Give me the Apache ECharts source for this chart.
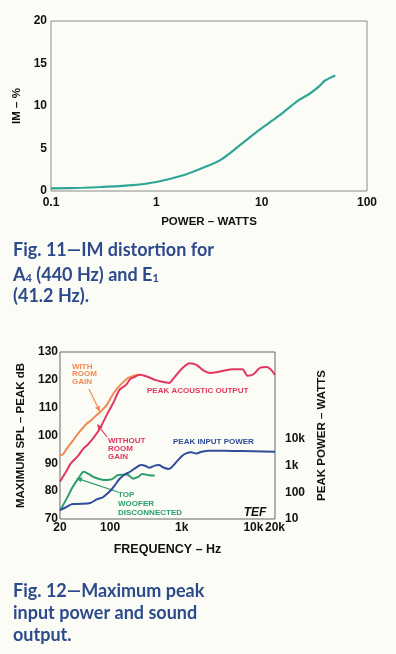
<!DOCTYPE html>
<html>
<head>
<meta charset="utf-8">
<script src="https://cdn.jsdelivr.net/npm/echarts@6/dist/echarts.min.js"></script>
<style>
  html, body { margin: 0; padding: 0; background: #fcfcf6; }
  #chart { width: 396px; height: 654px; }
</style>
</head>
<body>
<div id="chart"></div>
<script>
// Fig. 11 - IM distortion vs power
const powerW = [0.1, 0.2, 0.3, 0.6, 1, 1.7, 2.6, 4, 6.1, 9.3, 14.4, 22, 29, 35, 40, 50];
const imPct = [0.3, 0.38, 0.47, 0.7, 1.06, 1.76, 2.6, 3.6, 5.3, 7.1, 8.8, 10.6, 11.5, 12.3, 13.0, 13.6];
const powerTicks = [0.1, 1, 10, 100];
const powerTickLabels = ['0.1', '1', '10', '100'];

// Fig. 12 - max SPL (left, dB) and peak input power (right, watts) vs frequency
const freqNoGain = [20, 25, 28, 36, 42, 50, 70, 94, 112, 136, 167, 190, 227, 260, 340, 420, 513, 664, 774, 1000, 1300, 1620, 2000, 2480, 3430, 5260, 7000, 8300, 10000, 12500, 15300, 20000];
const splNoGain = [83.5, 87.5, 89.8, 92.8, 95.2, 97, 102, 108.4, 112, 116.5, 118.2, 120.2, 121.2, 121.8, 121, 120, 119.4, 118.9, 120.6, 124, 126, 125.3, 123.4, 122.5, 123, 123.8, 123.8, 121.5, 122, 124.4, 124.6, 121.8];

const freqGain = [20, 22, 25, 30, 34, 40, 47, 55, 65, 75, 89, 106, 125, 150, 177, 210, 250];
const splGain = [92.8, 93.2, 95.4, 98, 100, 102.2, 104.2, 105.6, 107.4, 108.8, 110.8, 114.2, 116.8, 119, 120.6, 121.4, 121.8];

const freqTopOff = [20, 25, 30, 36, 43, 50, 60, 75, 90, 106, 130, 172, 210, 250, 280, 350, 420];
const splTopOff = [73, 77.5, 81.5, 84.5, 87, 86.2, 85, 84.2, 84, 84.3, 85.8, 86, 84.5, 85.2, 86.2, 85.7, 85.6];

const freqInput = [20, 24, 30, 40, 53, 65, 79, 92, 106, 120, 135, 160, 190, 227, 270, 320, 350, 420, 480, 550, 660, 760, 860, 1000, 1150, 1350, 1600, 1900, 2400, 3000, 5000, 10000, 20000];
const wattsInput = [21.5, 27, 36.5, 37, 40, 54, 65, 91, 133, 205, 316, 464, 590, 826, 1050, 953, 826, 1000, 1050, 866, 750, 1000, 1470, 2260, 2870, 3160, 2870, 3320, 3650, 3650, 3560, 3480, 3320];

const freqTicks = [20, 100, 1000, 10000, 20000];
const freqTickLabels = ['20', '100', '1k', '10k', '20k'];
const wattTicks = [10, 100, 1000, 10000];
const wattTickLabels = ['10', '100', '1k', '10k'];

const labelFont = 'Liberation Sans';
const captionFont = 'Lato';
const captionColor = '#2d4a8c';
const red = '#e2365e';
const orange = '#f08a52';
const green = '#2b9d6e';
const blue = '#2f4d9c';

function tickLabel(ticks, labels) {
  return function (v) {
    for (let i = 0; i < ticks.length; i++) {
      if (Math.abs(v / ticks[i] - 1) < 1e-6) return labels[i];
    }
    return '';
  };
}

function pairs(xs, ys) {
  return xs.map((x, i) => [x, ys[i]]);
}

// small arrow for the hand-drawn style annotations
function arrow(x1, y1, x2, y2, color) {
  const a = Math.atan2(y2 - y1, x2 - x1);
  const len = 6, w = 2.6;
  const bx = x2 - len * Math.cos(a), by = y2 - len * Math.sin(a);
  return [
    { type: 'line', shape: { x1: x1, y1: y1, x2: bx, y2: by }, style: { stroke: color, lineWidth: 1.2 } },
    { type: 'polygon', shape: { points: [[x2, y2], [bx + w * Math.sin(a), by - w * Math.cos(a)], [bx - w * Math.sin(a), by + w * Math.cos(a)]] }, style: { fill: color } }
  ];
}

function note(text, x, y, color, lineHeight) {
  return {
    type: 'text',
    style: { text: text, x: x, y: y, fill: color, font: 'bold 8px ' + labelFont, lineHeight: lineHeight || 8, verticalAlign: 'top', align: 'left' }
  };
}

function caption(text, x, y) {
  return {
    type: 'text',
    style: { text: text, x: x, y: y, fill: captionColor, font: 'bold 18px ' + captionFont, verticalAlign: 'middle', align: 'left' }
  };
}

const axisText = { color: '#111', fontFamily: labelFont, fontWeight: 'bold', fontSize: 12 };
const nameText = { color: '#111', fontFamily: labelFont, fontWeight: 'bold', fontSize: 11.5 };

const chart = echarts.init(document.getElementById('chart'));

chart.setOption({
  backgroundColor: '#fcfcf6',
  animation: false,
  grid: [
    { left: 51, top: 21, width: 316, height: 170, show: true, borderColor: '#8a8a8a', borderWidth: 1, backgroundColor: 'transparent' },
    { left: 60, top: 352, width: 215, height: 167, show: true, borderColor: '#666', borderWidth: 1, backgroundColor: 'transparent' }
  ],
  xAxis: [
    {
      gridIndex: 0, type: 'log', logBase: 10, min: 0.1, max: 100,
      name: 'POWER \u2013 WATTS', nameLocation: 'middle', nameGap: 25, nameTextStyle: nameText,
      axisLine: { show: false }, axisTick: { show: false }, splitLine: { show: false },
      axisLabel: Object.assign({ margin: 6, showMinLabel: true, showMaxLabel: true, formatter: tickLabel(powerTicks, powerTickLabels) }, axisText)
    },
    {
      gridIndex: 1, type: 'log', logBase: 10, min: 20, max: 20000,
      name: 'FREQUENCY \u2013 Hz', nameLocation: 'middle', nameGap: 24, nameTextStyle: Object.assign({}, nameText, { fontSize: 12.5 }),
      axisLine: { show: false }, axisTick: { show: false }, splitLine: { show: false },
      axisLabel: Object.assign({ margin: 3, showMinLabel: true, showMaxLabel: true, formatter: tickLabel(freqTicks, freqTickLabels) }, axisText)
    }
  ],
  yAxis: [
    {
      gridIndex: 0, type: 'value', min: 0, max: 20, interval: 5,
      name: 'IM \u2013 %', nameLocation: 'middle', nameGap: 25, nameTextStyle: nameText,
      axisLine: { show: false }, axisTick: { show: false }, splitLine: { show: false },
      axisLabel: Object.assign({ margin: 4 }, axisText)
    },
    {
      gridIndex: 1, type: 'value', min: 70, max: 130, interval: 10,
      name: 'MAXIMUM SPL \u2013 PEAK dB', nameLocation: 'middle', nameGap: 29, nameTextStyle: nameText,
      axisLine: { show: false }, axisTick: { show: false }, splitLine: { show: false },
      axisLabel: Object.assign({ margin: 2 }, axisText)
    },
    {
      gridIndex: 1, type: 'log', logBase: 10, min: 10, max: 1.82e7, position: 'right',
      name: 'PEAK POWER \u2013 WATTS', nameLocation: 'middle', nameGap: 34, nameTextStyle: nameText,
      axisLine: { show: false }, axisTick: { show: false }, splitLine: { show: false },
      axisLabel: Object.assign({ margin: 10, showMinLabel: true, formatter: tickLabel(wattTicks, wattTickLabels) }, axisText)
    }
  ],
  series: [
    {
      name: 'IM', type: 'line', xAxisIndex: 0, yAxisIndex: 0, data: pairs(powerW, imPct),
      smooth: 0.3, symbol: 'none', lineStyle: { color: '#2fa596', width: 2.2 }
    },
    {
      name: 'With room gain', type: 'line', xAxisIndex: 1, yAxisIndex: 1, data: pairs(freqGain, splGain),
      smooth: 0.3, symbol: 'none', lineStyle: { color: orange, width: 2 }
    },
    {
      name: 'Without room gain', type: 'line', xAxisIndex: 1, yAxisIndex: 1, data: pairs(freqNoGain, splNoGain),
      smooth: 0.3, symbol: 'none', lineStyle: { color: red, width: 2 }
    },
    {
      name: 'Top woofer disconnected', type: 'line', xAxisIndex: 1, yAxisIndex: 1, data: pairs(freqTopOff, splTopOff),
      smooth: 0.3, symbol: 'none', lineStyle: { color: green, width: 2 }
    },
    {
      name: 'Peak input power', type: 'line', xAxisIndex: 1, yAxisIndex: 2, data: pairs(freqInput, wattsInput),
      smooth: 0.3, symbol: 'none', lineStyle: { color: blue, width: 2 }
    }
  ],
  graphic: [
    caption('Fig. 11\u2014IM distortion for', 13, 250),
    {
      type: 'text',
      style: {
        text: '{m|A}{s|4}{m| (440 Hz) and E}{s|1}', x: 13, y: 262, verticalAlign: 'top', align: 'left',
        rich: {
          m: { fill: captionColor, fontFamily: captionFont, fontWeight: 'bold', fontSize: 18, lineHeight: 22, verticalAlign: 'bottom' },
          s: { fill: captionColor, fontFamily: captionFont, fontWeight: 'bold', fontSize: 11, lineHeight: 9, verticalAlign: 'bottom' }
        }
      }
    },
    caption('(41.2 Hz).', 13, 296),
    caption('Fig. 12\u2014Maximum peak', 13, 591),
    caption('input power and sound', 13, 613),
    caption('output.', 13, 635),

    note('WITH\nROOM\nGAIN', 72, 363, orange, 7.5),
    note('WITHOUT\nROOM\nGAIN', 108, 437, red, 8),
    note('PEAK ACOUSTIC OUTPUT', 147, 387, red),
    note('PEAK INPUT POWER', 173, 438, blue),
    note('TOP\nWOOFER\nDISCONNECTED', 118, 490, green, 9),
    {
      type: 'text',
      style: { text: 'TEF', x: 255, y: 513, fill: '#111', font: 'italic bold 12px ' + labelFont, align: 'center', verticalAlign: 'middle' }
    }
  ]
    .concat(arrow(89, 389, 100, 412, orange))
    .concat(arrow(107, 437, 97, 424, red))
    .concat(arrow(118, 492, 76, 478, green))
});
</script>
</body>
</html>
